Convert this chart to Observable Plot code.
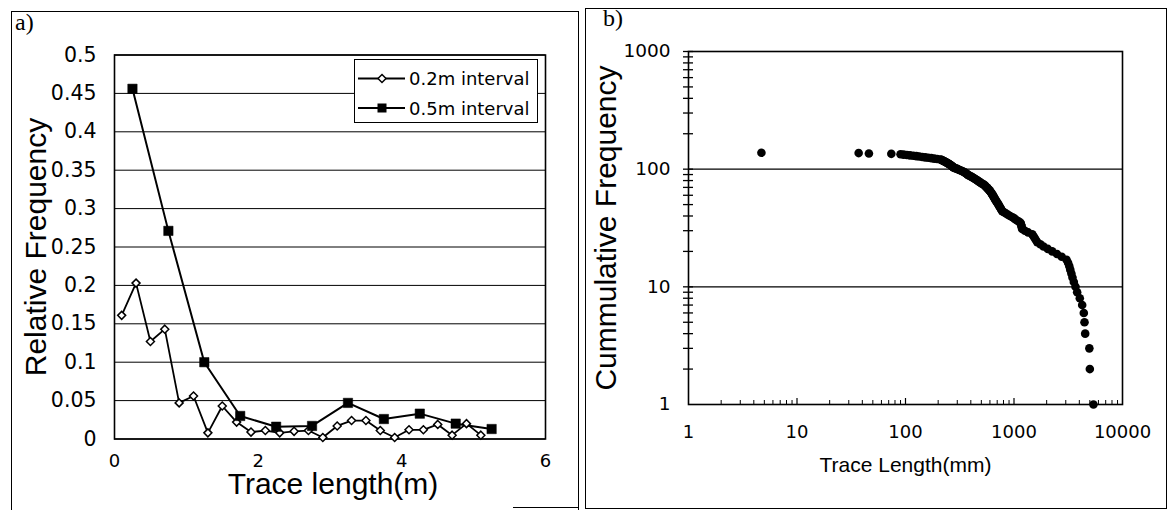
<!DOCTYPE html>
<html><head><meta charset="utf-8">
<script src="https://cdn.jsdelivr.net/npm/d3@7"></script>
<script src="https://cdn.jsdelivr.net/npm/@observablehq/plot@0.6"></script>
<style>
body{margin:0;background:#fff;}
#wrap{position:relative;width:1175px;height:510px;overflow:hidden;font-family:"Liberation Sans",Arial,sans-serif;color:#000;}
.abs{position:absolute;}
.panelLabel{position:absolute;font-family:"Liberation Serif","Times New Roman",serif;font-size:24px;line-height:1;}
</style></head><body><div id="wrap"></div>
<script>
// ---------- Panel a) data ----------
const interval02X = [0.1,0.3,0.5,0.7,0.9,1.1,1.3,1.5,1.7,1.9,2.1,2.3,2.5,2.7,2.9,3.1,3.3,3.5,3.7,3.9,4.1,4.3,4.5,4.7,4.9,5.1];
const interval02Y = [0.161,0.203,0.127,0.143,0.047,0.056,0.008,0.043,0.022,0.009,0.011,0.008,0.010,0.011,0.002,0.017,0.024,0.024,0.011,0.002,0.012,0.012,0.019,0.005,0.020,0.005];
const interval05X = [0.25,0.75,1.25,1.75,2.25,2.75,3.25,3.75,4.25,4.75,5.25];
const interval05Y = [0.456,0.271,0.100,0.030,0.016,0.017,0.047,0.026,0.033,0.020,0.013];
const xTicksA = [0,2,4,6];
const yTicksA = [0,0.05,0.1,0.15,0.2,0.25,0.3,0.35,0.4,0.45,0.5];
const seriesNames = ["0.2m interval","0.5m interval"];

// ---------- Panel b) data (trace lengths in mm, ascending) ----------
const traceLengthMM = [4.7,37,46,74,90,96,103,110,118,126,134,143,152,162,173,184,196,210,
 214,218,222,226,230,234,238,242,246,250,254,258,262,265,268,272,275,279,
 287,295,303,311,319,327,335,342,349,356,363,368,372,
 380,389,398,407,416,425,434,443,452,461,470,480,490,500,512,527,
 535,543,552,560,569,577,586,
 594,602,610,617,624,631,638,645,652,659,666,673,681,690,700,
 709,718,728,738,748,758,768,779,
 810,845,880,920,970,1010,1050,1100,1148,1160,1170,1180,1190,
 1260,1350,1472,1510,1550,1590,1636,1750,1870,2050,2250,2490,2750,3050,
 3150,3230,3300,3380,3460,3560,3690,3820,4040,4250,4400,4465,4530,4950,5000,5400];
const xTicksB = [1,10,100,1000,10000];
const yTicksB = [1,10,100,1000];
const yTickMarksB = [2,3,4,5,6,7,8,9,10,20,30,40,50,60,70,80,90,100,200,300,400,500,600,700,800,900,1000];
const xMinorB = [2,3,4,5,6,7,8,9,20,30,40,50,60,70,80,90,200,300,400,500,600,700,800,900,2000,3000,4000,5000,6000,7000,8000,9000];
const xMajorB = [10,100,1000];
const gridB = [10,100];

// cumulative frequency = number of traces with length >= this one
const cumData = traceLengthMM.map((L,i)=>({L, N: traceLengthMM.length - i}));
const d02 = interval02X.map((x,i)=>({x, y: interval02Y[i]}));
const d05 = interval05X.map((x,i)=>({x, y: interval05Y[i]}));

const FONT = "Liberation Sans, Arial, sans-serif";
const TICKFONT = "DejaVu Sans, Verdana, sans-serif";
const wrap = document.getElementById("wrap");

// ---------- Panel a) ----------
const WA = 580, HA = 510, mLA = 114, mRA = 35, mTA = 54.5, mBA = 71.5;
const plotA = Plot.plot({
  width: WA, height: HA,
  marginLeft: mLA, marginRight: mRA, marginTop: mTA, marginBottom: mBA,
  style: {background: "transparent", fontFamily: TICKFONT, fontSize: "20.5px", color: "#000", overflow: "visible"},
  x: {domain: [0, 6]},
  y: {domain: [0, 0.5]},
  marks: [
    Plot.ruleY(yTicksA, {stroke: "#000", strokeWidth: 1}),
    Plot.frame({stroke: "#000", strokeWidth: 1.6}),
    Plot.axisX({ticks: xTicksA, tickSize: 0, tickPadding: 15, fontSize: 18, fontFamily: TICKFONT, tickFormat: d => String(d), label: null}),
    Plot.axisY({ticks: yTicksA, tickSize: 0, tickPadding: 18, fontSize: 20.5, fontFamily: TICKFONT, tickFormat: d => String(d), label: null}),
    Plot.line(d05, {x: "x", y: "y", stroke: "#000", strokeWidth: 2}),
    Plot.line(d02, {x: "x", y: "y", stroke: "#000", strokeWidth: 1.8}),
    Plot.dot(d02, {x: "x", y: "y", symbol: "diamond2", r: 3.6, fill: "#fff", stroke: "#000", strokeWidth: 1.5}),
    Plot.dot(d05, {x: "x", y: "y", symbol: "square", r: 5.3, fill: "#000", stroke: "#000", strokeWidth: 0.5}),
    Plot.text(["Trace length(m)"], {frameAnchor: "bottom", dy: 45, dx: 3, lineAnchor: "middle", fontSize: 30, fontFamily: FONT, fill: "#000"}),
    Plot.text(["Relative Frequency"], {frameAnchor: "left", textAnchor: "middle", dx: -78, rotate: -90, lineAnchor: "middle", fontSize: 30, fontFamily: FONT, fill: "#000"})
  ]
});
plotA.classList.add("abs");
plotA.style.left = "0px"; plotA.style.top = "0px";
wrap.appendChild(plotA);

// ---------- Panel b) ----------
const WB = 595, HB = 510, mLB = 108, mRB = 53, mTB = 51, mBB = 106;
const innerWB = WB - mLB - mRB, innerHB = HB - mTB - mBB;
const plotB = Plot.plot({
  width: WB, height: HB,
  marginLeft: mLB, marginRight: mRB, marginTop: mTB, marginBottom: mBB,
  style: {background: "transparent", fontFamily: TICKFONT, fontSize: "18px", color: "#000", overflow: "visible"},
  x: {type: "log", domain: [1, 10000]},
  y: {type: "log", domain: [1, 1000]},
  marks: [
    Plot.ruleY(gridB, {stroke: "#000", strokeWidth: 1.2}),
    Plot.frame({stroke: "#000", strokeWidth: 1.6}),
    Plot.ruleY(yTickMarksB, {insetLeft: -5, insetRight: innerWB - 5, stroke: "#000", strokeWidth: 1.3}),
    Plot.ruleX(xMinorB, {insetTop: innerHB - 4, stroke: "#000", strokeWidth: 1}),
    Plot.ruleX(xMajorB, {insetTop: innerHB - 6, stroke: "#000", strokeWidth: 1.2}),
    Plot.axisX({ticks: xTicksB, tickSize: 0, tickPadding: 21, fontSize: 18, fontFamily: TICKFONT, tickFormat: d => String(d), label: null}),
    Plot.axisY({ticks: yTicksB, tickSize: 0, tickPadding: 18, fontSize: 18.5, fontFamily: TICKFONT, tickFormat: d => String(d), label: null}),
    Plot.dot(cumData, {x: "L", y: "N", r: 4.3, fill: "#000"}),
    Plot.text(["Trace Length(mm)"], {frameAnchor: "bottom", dy: 61, lineAnchor: "middle", fontSize: 21, fontFamily: FONT, fill: "#000"}),
    Plot.text(["Cummulative Frequency"], {frameAnchor: "left", textAnchor: "middle", dx: -82, rotate: -90, lineAnchor: "middle", fontSize: 30, fontFamily: FONT, fill: "#000"})
  ]
});
plotB.classList.add("abs");
plotB.style.left = "580px"; plotB.style.top = "0px";
wrap.appendChild(plotB);

// ---------- Panel frames (figure decoration) ----------
function box(l, t, w, h, sides) {
  const d = document.createElement("div");
  d.className = "abs";
  Object.assign(d.style, {left: l + "px", top: t + "px", width: w + "px", height: h + "px", boxSizing: "border-box"});
  for (const s of sides) d.style["border" + s] = "1.5px solid #000";
  wrap.appendChild(d);
}
box(11, 11, 568, 500, ["Left", "Top", "Right"]);
box(513, 507, 66, 2, ["Top"]);
box(585, 8, 582, 501, ["Left", "Top", "Right", "Bottom"]);

// panel labels
for (const [txt, l, t] of [["a)", 15, 10], ["b)", 603, 6]]) {
  const s = document.createElement("div");
  s.className = "panelLabel"; s.textContent = txt;
  s.style.left = l + "px"; s.style.top = t + "px";
  wrap.appendChild(s);
}

// ---------- Legend ----------
const leg = document.createElement("div");
leg.className = "abs";
Object.assign(leg.style, {left: "354px", top: "59px", width: "184px", height: "64px", boxSizing: "border-box", border: "1.5px solid #000", background: "#fff"});
const ns = "http://www.w3.org/2000/svg";
const lsvg = document.createElementNS(ns, "svg");
lsvg.setAttribute("width", 181); lsvg.setAttribute("height", 61);
lsvg.style.display = "block";
seriesNames.forEach((name, i) => {
  const cy = i === 0 ? 18.5 : 48;
  const ln = document.createElementNS(ns, "line");
  ln.setAttribute("x1", 3); ln.setAttribute("x2", 50); ln.setAttribute("y1", cy); ln.setAttribute("y2", cy);
  ln.setAttribute("stroke", "#000"); ln.setAttribute("stroke-width", 2);
  lsvg.appendChild(ln);
  const cx = 27;
  let m;
  if (i === 0) {
    m = document.createElementNS(ns, "path");
    m.setAttribute("d", `M${cx},${cy-4}L${cx+4},${cy}L${cx},${cy+4}L${cx-4},${cy}Z`);
    m.setAttribute("fill", "#fff"); m.setAttribute("stroke", "#000"); m.setAttribute("stroke-width", 1.5);
  } else {
    m = document.createElementNS(ns, "rect");
    m.setAttribute("x", cx - 4.5); m.setAttribute("y", cy - 4.5); m.setAttribute("width", 9); m.setAttribute("height", 9);
    m.setAttribute("fill", "#000");
  }
  lsvg.appendChild(m);
  const t = document.createElementNS(ns, "text");
  t.setAttribute("x", 54); t.setAttribute("y", cy + 6.5);
  t.setAttribute("font-size", 18); t.setAttribute("font-family", TICKFONT);
  t.textContent = name;
  lsvg.appendChild(t);
});
leg.appendChild(lsvg);
wrap.appendChild(leg);
</script></body></html>
